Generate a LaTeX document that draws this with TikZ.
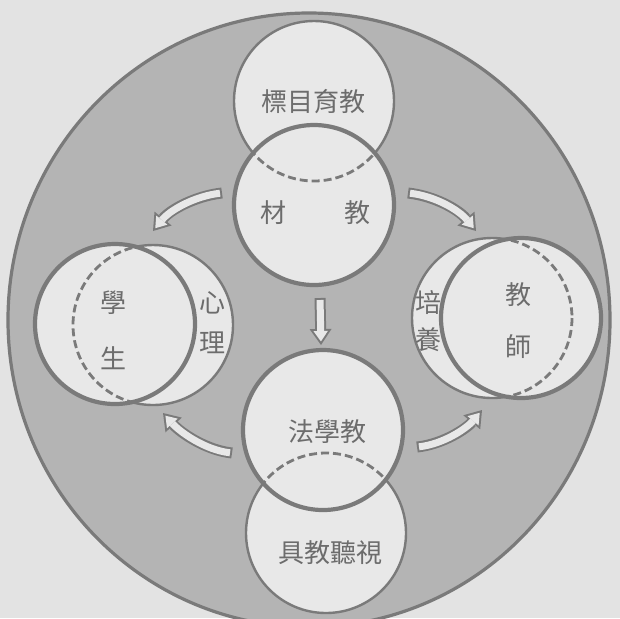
\documentclass[tikz,border=0pt]{standalone}
\usepackage{fontspec}
\newfontfamily\cjk{Noto Sans CJK TC}
\usetikzlibrary{arrows.meta}

\definecolor{paper}{HTML}{E3E3E3}
\definecolor{dots}{HTML}{B4B4B4}
\definecolor{disc}{HTML}{E8E8E8}
\definecolor{ink}{HTML}{7A7A7A}
\definecolor{letter}{HTML}{6C6C6C}

\tikzset{
  back/.style={circle, minimum size=80pt, inner sep=0pt, fill=disc, draw=ink, line width=1.2pt},
  front/.style={circle, minimum size=80pt, inner sep=0pt, fill=disc},
  rim/.style={draw=ink, line width=2.1pt},
  hidden/.style={draw=ink, line width=1.4pt, dash pattern=on 4pt off 2pt},
  word/.style={font=\cjk\fontsize{13}{13}\selectfont, text=letter, inner sep=0pt},
  flowout/.style={draw=ink, line width=5.5pt, -{Triangle[width=11pt,length=8pt,line width=0pt]}},
  flowin/.style={draw=disc, line width=3.5pt, shorten <=1pt, shorten >=1.8pt, -{Triangle[width=7.2pt,length=5.2pt,line width=0pt]}},
}

\begin{document}
\begin{tikzpicture}[x=0.5pt,y=-0.5pt]
  \useasboundingbox (0,0) rectangle (620,618);
  \fill[paper] (0,0) rectangle (620,618);
  \filldraw[fill=dots, draw=ink, line width=1.6pt] (309,320) ellipse [x radius=301, y radius=307];

  % circles: back ones first, the front ones over them
  \node[back] (aim) at (314,101) {};
  \node[front] (mat) at (314,205) {};
  \node[back] (psy) at (153,325) {};
  \node[front] (stu) at (115,324) {};
  \node[back] (tra) at (492,318) {};
  \node[front] (tea) at (521,318) {};
  \node[back] (av) at (326,533) {};
  \node[front] (met) at (323,430) {};

  % hidden part of each back circle
  \foreach \f/\b in {mat/aim, stu/psy, tea/tra, met/av} {
    \begin{scope}
      \clip (\f.center) circle [radius=80];
      \draw[hidden] (\b.center) circle [radius=80];
    \end{scope}
    \draw[rim] (\f.center) circle [radius=80];
  }

  % texts
  \node[word] (w1) at (313,102) {標目育教};
  \node[word] (w2) at (273,213) {材};
  \node[word] (w3) at (357,213) {教};
  \node[word] (w4) at (113,303) {學};
  \node[word] (w5) at (113,358) {生};
  \node[word] (w6) at (212,303) {心};
  \node[word] (w7) at (212,343) {理};
  \node[word] (w8) at (518,295) {教};
  \node[word] (w9) at (518,347) {師};
  \node[word] (w10) at (428,303) {培};
  \node[word] (w11) at (428,340) {養};
  \node[word] (w12) at (327,432) {法學教};
  \node[word] (w13) at (330,553) {具教聽視};

  % arrows
  \coordinate (t1) at (222,193);
  \coordinate (h1) at (153,231);
  \coordinate (t2) at (408,193);
  \coordinate (h2) at (476,231);
  \coordinate (t3) at (320,298);
  \coordinate (h3) at (321,345);
  \coordinate (t4) at (232,453);
  \coordinate (h4) at (163,413);
  \coordinate (t5) at (417,447);
  \coordinate (h5) at (482,410);
  \draw[flowout] (t1) .. controls (195,196) and (170,210) .. (h1);
  \draw[flowin] (t1) .. controls (195,196) and (170,210) .. (h1);
  \draw[flowout] (t2) .. controls (435,196) and (459,210) .. (h2);
  \draw[flowin] (t2) .. controls (435,196) and (459,210) .. (h2);
  \draw[flowout] (t3) -- (h3);
  \draw[flowin] (t3) -- (h3);
  \draw[flowout] (t4) .. controls (205,450) and (180,432) .. (h4);
  \draw[flowin] (t4) .. controls (205,450) and (180,432) .. (h4);
  \draw[flowout] (t5) .. controls (444,444) and (467,428) .. (h5);
  \draw[flowin] (t5) .. controls (444,444) and (467,428) .. (h5);
\end{tikzpicture}
\end{document}
